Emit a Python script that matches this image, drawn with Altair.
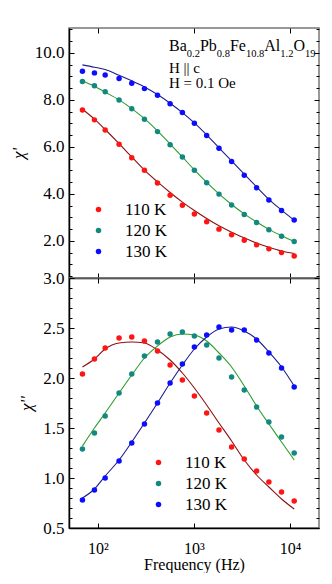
import altair as alt
import pandas as pd

# ---------------- data ----------------
freq = [69, 92, 119, 166, 225, 305, 417, 564, 757, 1009, 1355, 1820, 2462, 3335, 4480, 6016, 8150, 11040]
temps = ["110 K", "120 K", "130 K"]

chi1_110 = [7.57, 7.15, 6.72, 6.11, 5.54, 5.01, 4.46, 3.94, 3.52, 3.14, 2.81, 2.50, 2.26, 2.03, 1.83, 1.66, 1.50, 1.36]
chi1_120 = [8.78, 8.60, 8.35, 8.00, 7.62, 7.18, 6.65, 6.09, 5.57, 5.01, 4.47, 3.99, 3.53, 3.12, 2.78, 2.47, 2.20, 1.97]
chi1_130 = [9.22, 9.15, 9.06, 8.91, 8.71, 8.48, 8.20, 7.84, 7.46, 7.01, 6.48, 5.94, 5.38, 4.79, 4.26, 3.74, 3.29, 2.89]

fit1_110 = [7.60, 7.18, 6.74, 6.14, 5.57, 5.01, 4.51, 4.06, 3.65, 3.29, 2.95, 2.64, 2.37, 2.13, 1.91, 1.73, 1.57, 1.46]
fit1_120 = [8.80, 8.58, 8.33, 8.00, 7.63, 7.20, 6.68, 6.12, 5.57, 5.02, 4.49, 4.00, 3.55, 3.15, 2.80, 2.49, 2.22, 1.98]
fit1_130 = [9.49, 9.39, 9.29, 9.05, 8.81, 8.55, 8.23, 7.86, 7.46, 7.02, 6.51, 5.96, 5.40, 4.84, 4.30, 3.77, 3.31, 2.88]

chi2_110 = [2.04, 2.19, 2.30, 2.40, 2.41, 2.37, 2.27, 2.13, 1.98, 1.82, 1.65, 1.48, 1.31, 1.19, 1.07, 0.96, 0.86, 0.77]
chi2_120 = [1.29, 1.45, 1.62, 1.85, 2.04, 2.22, 2.36, 2.44, 2.46, 2.42, 2.33, 2.20, 2.01, 1.88, 1.71, 1.56, 1.41, 1.25]
chi2_130 = [0.78, 0.88, 1.00, 1.17, 1.35, 1.54, 1.75, 1.95, 2.14, 2.31, 2.43, 2.51, 2.48, 2.48, 2.38, 2.25, 2.10, 1.91]

fit2_110 = [2.11, 2.19, 2.29, 2.35, 2.36, 2.35, 2.28, 2.18, 2.05, 1.90, 1.73, 1.55, 1.37, 1.18, 1.03, 0.91, 0.79, 0.69]
fit2_120 = [1.32, 1.50, 1.65, 1.85, 2.03, 2.20, 2.32, 2.41, 2.44, 2.43, 2.37, 2.25, 2.11, 1.92, 1.72, 1.54, 1.36, 1.18]
fit2_130 = [0.80, 0.89, 1.02, 1.18, 1.36, 1.55, 1.75, 1.95, 2.13, 2.29, 2.41, 2.49, 2.51, 2.47, 2.39, 2.26, 2.11, 1.92]

x_ticks = [100, 1000, 10000]
top_major = [2.0, 4.0, 6.0, 8.0, 10.0]
bot_major = [0.5, 1.0, 1.5, 2.0, 2.5, 3.0]
top_minor = [0.5 * i for i in range(1, 23)]
bot_minor = [round(0.5 + 0.1 * i, 2) for i in range(0, 26)]

formula_parts = ["Ba", "0.2", "Pb", "0.8", "Fe", "10.8", "Al", "1.2", "O", "19"]

# ---------------- style ----------------
FONT = "'Liberation Serif', 'Times New Roman', serif"
W, H = 250, 250
pt_colors = ["#ff1414", "#13887f", "#0c0cff"]
ln_colors = ["#8e1010", "#2a9d2a", "#1c1c90"]


def long(series):
    rows = []
    for t, vals in zip(temps, series):
        for f, v in zip(freq, vals):
            rows.append({"f": f, "v": v, "T": t})
    return pd.DataFrame(rows)


def tick_axis(orient, offset, values, major_test=None):
    if major_test is None:
        ts = 5
    else:
        ts = {"condition": {"test": major_test, "value": 5}, "value": 3}
    return alt.Axis(orient=orient, offset=offset, values=values, labels=False,
                    domain=False, grid=False, title=None, tickSize=ts,
                    tickColor="black", tickWidth=1)


def txt(s, x, y, size):
    return alt.Chart(pd.DataFrame({"a": [0]})).mark_text(
        text=s, align="left", baseline="alphabetic", font=FONT,
        fontSize=size, color="black").encode(x=alt.value(x), y=alt.value(y))


def panel(pts, fits, ydom, ymajor, yminor, ytest, ytitle, show_x, leg_xy, extra):
    xs = alt.Scale(type="log", domain=[50, 20000], nice=False)
    ys = alt.Scale(domain=ydom, nice=False, zero=False)
    xkw = dict(orient="bottom", values=x_ticks, tickSize=0, domain=True,
               domainColor="black", domainWidth=1.5, grid=False,
               labelFont=FONT, titleFont=FONT)
    if show_x:
        xkw.update(labels=True,
                   labelExpr="datum.value == 100 ? '10²' : datum.value == 1000 ? '10³' : '10⁴'",
                   labelFontSize=16, labelPadding=12, title="Frequency (Hz)",
                   titleFontSize=16, titlePadding=0, titleFontWeight="normal")
    else:
        xkw.update(labels=False, title=None)
    x_main = alt.Axis(**xkw)
    y_main = alt.Axis(orient="left", values=ymajor, format=".1f", tickSize=0,
                      domain=True, domainColor="black", domainWidth=1.5,
                      grid=False, labelFont=FONT, labelFontSize=17, labelPadding=5,
                      title=ytitle, titleFont=FONT, titleFontSize=17,
                      titleFontStyle="italic", titleFontWeight="normal",
                      titlePadding=7)

    lines = alt.Chart(long(fits)).mark_line(strokeWidth=1.1, interpolate="monotone").encode(
        x=alt.X("f:Q", scale=xs, axis=x_main),
        y=alt.Y("v:Q", scale=ys, axis=y_main),
        color=alt.Color("T:N", scale=alt.Scale(domain=temps, range=ln_colors), legend=None),
        detail="T:N",
    )
    points = alt.Chart(long(pts)).mark_circle(size=30, opacity=1).encode(
        x=alt.X("f:Q", scale=xs, axis=tick_axis("top", -H, x_ticks)),
        y=alt.Y("v:Q", scale=ys, axis=tick_axis("right", -W, yminor, ytest)),
        color=alt.Color("T:N", scale=alt.Scale(domain=temps, range=pt_colors),
                        legend=alt.Legend(orient="none", legendX=leg_xy[0], legendY=leg_xy[1],
                                          title=None, labelFont=FONT, labelFontSize=17,
                                          symbolType="circle", symbolSize=30,
                                          symbolStrokeWidth=0, labelOffset=18,
                                          rowPadding=3, padding=0)),
    )
    ghost = alt.Chart(long(fits)).mark_point(opacity=0).encode(
        x=alt.X("f:Q", scale=xs, axis=tick_axis("bottom", -H, x_ticks)),
        y=alt.Y("v:Q", scale=ys, axis=tick_axis("left", -W, yminor, ytest)),
    )
    layers = [lines, points, ghost] + extra
    return alt.layer(*layers).resolve_scale(color="independent").resolve_axis(
        x="independent", y="independent").properties(width=W, height=H)


# formula annotation with subscripts
char_w = {"B": 0.667, "a": 0.444, "P": 0.556, "b": 0.5, "F": 0.556, "e": 0.444,
          "A": 0.722, "l": 0.278, "O": 0.722, ".": 0.25}
annot = []
cx = 100.0
for i, part in enumerate(formula_parts):
    sub = i % 2 == 1
    size = 10.5 if sub else 16
    annot.append(txt(part, cx, 29 if sub else 23, size))
    cx += sum(char_w.get(c, 0.5) for c in part) * size
annot.append(txt("H || c", 100, 44.5, 15))
annot.append(txt("H = 0.1 Oe", 100, 59.5, 15))

top = panel([chi1_110, chi1_120, chi1_130], [fit1_110, fit1_120, fit1_130],
            [0.42, 11.06], top_major, top_minor,
            "abs(datum.value/2 - round(datum.value/2)) < 0.01",
            "χ'", False, (21, 173), annot)
bottom = panel([chi2_110, chi2_120, chi2_130], [fit2_110, fit2_120, fit2_130],
               [0.5, 3.0], bot_major, bot_minor,
               "abs(datum.value*2 - round(datum.value*2)) < 0.01",
               "χ''", True, (81, 176), [])

chart = alt.vconcat(top, bottom, spacing=0, bounds="flush").resolve_scale(
    color="independent").configure_view(stroke="#777", strokeWidth=1.5).configure_axis(
    labelFont=FONT, titleFont=FONT, labelColor="black", titleColor="black",
    titleFontWeight="normal").configure_legend(labelColor="black", labelFont=FONT).properties(
    padding={"left": 0, "top": 18, "right": 2, "bottom": 0})

chart.save("out.html", embed_options={"renderer": "svg", "actions": False})
